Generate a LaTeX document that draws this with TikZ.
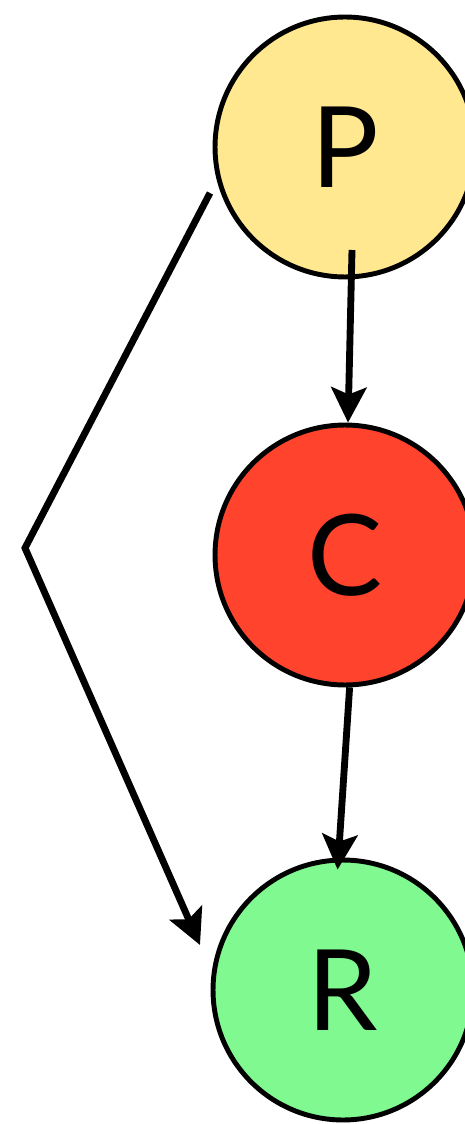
\documentclass[tikz,border=0pt]{standalone}
\usepackage{fontspec}
\setmainfont{Lato}
\usepackage{tikz,xcolor}
\usetikzlibrary{arrows.meta, calc}
\definecolor{pyellow}{RGB}{255,232,143}
\definecolor{cred}{RGB}{255,67,45}
\definecolor{rgreen}{RGB}{128,250,144}
\tikzset{
  % the three round nodes
  ball/.style={
    circle, draw=black, line width=2.8pt, inner sep=0pt,
    minimum size=5.2cm, font=\fontsize{64}{64}\selectfont
  },
  % thick connectors with a big head
  link/.style={
    line width=3.9pt,
    -{Stealth[length=20pt, width=20pt, inset=4pt]}
  },
}
\begin{document}
\begin{tikzpicture}[x=0.02cm, y=-0.02cm]
  \useasboundingbox (0,0) rectangle (465,1124);
  \node[ball, fill=pyellow] (P) at (345,147) {P};
  \node[ball, fill=cred] (C) at (345,555) {C};
  \node[ball, fill=rgreen] (R) at (343,990) {R};
  % start of first arrow sits inside P
  \coordinate (pstart) at (352,250);
  % free ends of the long arrow on the left
  \coordinate (pleft) at (210,193);
  \coordinate (bend) at (25,548);
  \coordinate (rtip) at (200,945);
  \draw[link] (pstart) -- (C);
  \draw[link, shorten >=-0.24cm] (C.-88) -- (R.92);
  % the long way round on the left
  \draw[link] (pleft) -- (bend) -- (rtip);
\end{tikzpicture}
\end{document}
